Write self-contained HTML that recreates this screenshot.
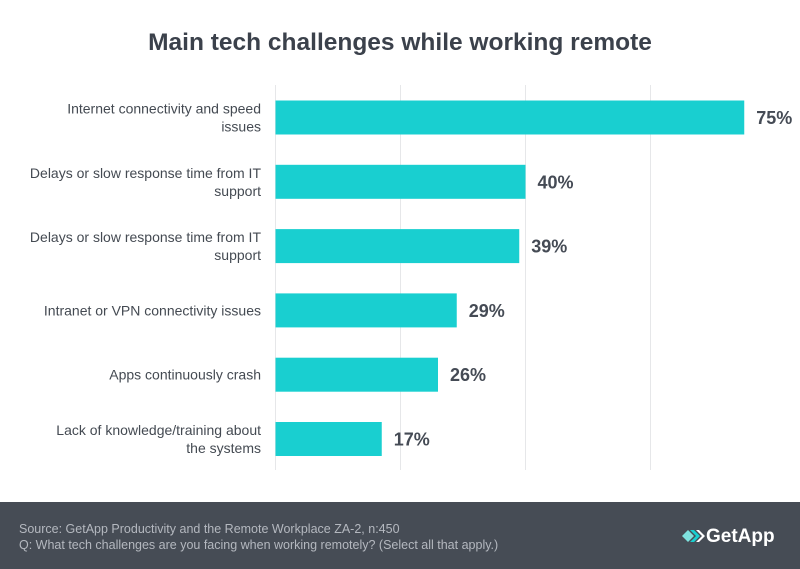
<!DOCTYPE html>
<html><head><meta charset="utf-8"><style>
body{margin:0;width:800px;height:569px;background:#fff;font-family:"Liberation Sans",sans-serif;overflow:hidden;position:relative}
#title{position:absolute;top:29px;left:0;width:800px;text-align:center;font-size:24.5px;font-weight:bold;color:#3b414b}
#footer{position:absolute;left:0;top:502px;width:800px;height:67px;background:#464c55}
.src{position:absolute;left:19px;font-size:12.5px;color:#b4b8bf}
#logo{position:absolute;left:682px;top:24px;font-size:19px;font-weight:bold;color:#fff}
</style></head><body>
<div id="title">Main tech challenges while working remote</div>
<svg id="chart" width="800" height="500" style="position:absolute;left:0;top:0"></svg>
<div id="footer">
<div class="src" style="top:20px">Source: GetApp Productivity and the Remote Workplace ZA-2, n:450</div>
<div class="src" style="top:36px">Q: What tech challenges are you facing when working remotely? (Select all that apply.)</div>
<div id="logo"><svg width="24" height="16" style="vertical-align:-2px"><polygon points="0,8 6,2 12,8 6,14" fill="#7fe3e0"/><polygon points="8,2 12,2 18,8 12,14 8,14 14,8" fill="#19cfd0"/><polygon points="14,2 17,2 23,8 17,14 14,14 20,8" fill="#fff"/></svg>GetApp</div>
</div>
<script>
const categories=[["Internet connectivity and speed","issues"],["Delays or slow response time from IT","support"],["Delays or slow response time from IT","support"],["Intranet or VPN connectivity issues"],["Apps continuously crash"],["Lack of knowledge/training about","the systems"]];
const values=[75,40,39,29,26,17];
const ticks=[0,20,40,60];
const NS="http://www.w3.org/2000/svg";
const svg=document.getElementById('chart');
const x0=275.5, pxPer=6.25;
const xs=v=>x0+v*pxPer;
const yc=i=>117.5+i*64.3;
function mk(t,a){const e=document.createElementNS(NS,t);for(const k in a)e.setAttribute(k,a[k]);svg.appendChild(e);return e;}
ticks.forEach(t=>{
  const l=mk('line',{x1:xs(t),x2:xs(t),y1:85,y2:470,stroke:'#e6e7e9','stroke-width':1});
  
  
});
values.forEach((v,i)=>{
  const r=mk('rect',{x:x0,y:yc(i)-17,width:v*pxPer,height:34,fill:'#19cfd0'});
  
  
  const t=mk('text',{x:xs(v)+12,y:yc(i)+6.5,'font-size':18,'font-weight':'bold',fill:'#454b55','font-family':'Liberation Sans, sans-serif'});
  t.textContent=v+'%';
  
  
  const lines=categories[i];
  const lab=mk('text',{'text-anchor':'end','font-size':14,fill:'#444a52','font-family':'Liberation Sans, sans-serif'});
  
  
  lines.forEach((s,j)=>{
    const ts=document.createElementNS(NS,'tspan');
    ts.setAttribute('x',261);
    ts.setAttribute('y',yc(i)+5+(j-(lines.length-1)/2)*18);
    ts.textContent=s;lab.appendChild(ts);
  });
});
</script>
</body></html>
